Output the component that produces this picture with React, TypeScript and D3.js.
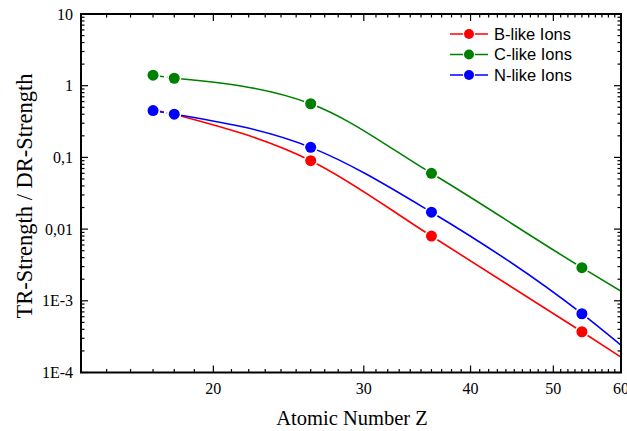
import { useRef, useEffect } from 'react';
import * as d3 from 'd3';

// atomic numbers of the computed ions
const ionZ = [17, 18, 26, 36, 54];
const bLike = [0.46, 0.4, 0.09, 0.008, 0.00037];
const cLike = [1.4, 1.27, 0.56, 0.06, 0.0029];
const nLike = [0.45, 0.4, 0.138, 0.0172, 0.00066];

// where the fitted curves leave the frame
const fitEndZ = 60;
const bLikeFitEnd = 0.000164;
const cLikeFitEnd = 0.00136;
const nLikeFitEnd = 0.00024;

const xMajorTicks = [20, 30, 40, 50, 60];
const yMajorTicks = [10, 1, 0.1, 0.01, 0.001, 0.0001];
const yTickLabels = ['10', '1', '0,1', '0,01', '1E-3', '1E-4'];

const seriesNames = ['B-like Ions', 'C-like Ions', 'N-like Ions'];
const seriesColors = ['#ff0000', '#008000', '#0000ff'];

export default function App() {
  const svgRef = useRef(null);

  useEffect(() => {
    const svg = d3.select(svgRef.current);
    svg.selectAll('*').remove();

    const left = 81;
    const right = 621;
    const top = 14;
    const bottom = 372.5;

    const x = d3.scaleLog().domain([14, 60]).range([left, right]);
    const y = d3.scaleLog().domain([0.0001, 10]).range([bottom, top]);

    svg
      .append('defs')
      .append('clipPath')
      .attr('id', 'plotClip')
      .append('rect')
      .attr('x', left)
      .attr('y', top)
      .attr('width', right - left)
      .attr('height', bottom - top);

    const series = [
      { vals: bLike, end: bLikeFitEnd },
      { vals: cLike, end: cLikeFitEnd },
      { vals: nLike, end: nLikeFitEnd },
    ];

    const plot = svg.append('g').attr('clip-path', 'url(#plotClip)');
    const line = d3
      .line()
      .x((d) => x(d[0]))
      .y((d) => y(d[1]))
      .curve(d3.curveMonotoneX);

    series.forEach((s, i) => {
      const pts = ionZ.map((z, j) => [z, s.vals[j]]);
      // dashed piece between the two lightest ions
      plot
        .append('path')
        .attr('d', d3.line()(pts.slice(0, 2).map((p) => [x(p[0]), y(p[1])])))
        .attr('fill', 'none')
        .attr('stroke', seriesColors[i])
        .attr('stroke-width', 1.6)
        .attr('stroke-dasharray', '4,3');
      plot
        .append('path')
        .attr('d', line(pts.slice(1).concat([[fitEndZ, s.end]])))
        .attr('fill', 'none')
        .attr('stroke', seriesColors[i])
        .attr('stroke-width', 1.6);
    });

    series.forEach((s, i) => {
      plot
        .selectAll(null)
        .data(ionZ)
        .enter()
        .append('circle')
        .attr('cx', (z) => x(z))
        .attr('cy', (z, j) => y(s.vals[j]))
        .attr('r', 5.5)
        .attr('fill', seriesColors[i])
        .attr('stroke', 'white')
        .attr('stroke-width', 3)
        .attr('paint-order', 'stroke');
    });

    // frame + inward ticks on all four sides
    const axes = svg.append('g').attr('stroke', 'black');
    const xMinor = d3.range(15, 60).filter((v) => !xMajorTicks.includes(v));
    const yMinor = [];
    [0.0001, 0.001, 0.01, 0.1, 1].forEach((d) => {
      for (let k = 2; k <= 9; k++) yMinor.push(d * k);
    });

    const tick = (x1, y1, x2, y2) =>
      axes
        .append('line')
        .attr('x1', x1)
        .attr('y1', y1)
        .attr('x2', x2)
        .attr('y2', y2)
        .attr('stroke-width', 1.2);

    xMajorTicks.forEach((v) => {
      tick(x(v), bottom, x(v), bottom - 7);
      tick(x(v), top, x(v), top + 7);
    });
    xMinor.forEach((v) => {
      tick(x(v), bottom, x(v), bottom - 3.5);
      tick(x(v), top, x(v), top + 3.5);
    });
    yMajorTicks.forEach((v) => {
      tick(left, y(v), left + 7, y(v));
      tick(right, y(v), right - 7, y(v));
    });
    yMinor.forEach((v) => {
      tick(left, y(v), left + 3.5, y(v));
      tick(right, y(v), right - 3.5, y(v));
    });

    axes
      .append('rect')
      .attr('x', left)
      .attr('y', top)
      .attr('width', right - left)
      .attr('height', bottom - top)
      .attr('fill', 'none')
      .attr('stroke-width', 2);

    const serif = 'Liberation Serif, Times New Roman, serif';

    svg
      .append('g')
      .selectAll('text')
      .data(xMajorTicks)
      .enter()
      .append('text')
      .attr('x', (v) => x(v))
      .attr('y', 394)
      .attr('text-anchor', 'middle')
      .attr('font-family', serif)
      .attr('font-size', 16)
      .text((v) => v);

    svg
      .append('g')
      .selectAll('text')
      .data(yMajorTicks)
      .enter()
      .append('text')
      .attr('x', 73)
      .attr('y', (v) => y(v))
      .attr('dy', '0.35em')
      .attr('text-anchor', 'end')
      .attr('font-family', serif)
      .attr('font-size', 16)
      .text((v, i) => yTickLabels[i]);

    svg
      .append('text')
      .attr('x', 352)
      .attr('y', 425)
      .attr('text-anchor', 'middle')
      .attr('font-family', serif)
      .attr('font-size', 20.5)
      .text('Atomic Number Z');

    svg
      .append('text')
      .attr('transform', 'translate(32,196) rotate(-90)')
      .attr('text-anchor', 'middle')
      .attr('font-family', serif)
      .attr('font-size', 22.5)
      .text('TR-Strength / DR-Strength');

    // legend
    const legend = svg.append('g');
    seriesNames.forEach((name, i) => {
      const ly = 34 + i * 20.5;
      legend
        .append('line')
        .attr('x1', 450)
        .attr('x2', 488)
        .attr('y1', ly)
        .attr('y2', ly)
        .attr('stroke', seriesColors[i])
        .attr('stroke-width', 1.6);
      legend
        .append('circle')
        .attr('cx', 469)
        .attr('cy', ly)
        .attr('r', 5)
        .attr('fill', seriesColors[i])
        .attr('stroke', 'white')
        .attr('stroke-width', 2)
        .attr('paint-order', 'stroke');
      legend
        .append('text')
        .attr('x', 494)
        .attr('y', ly)
        .attr('dy', '0.35em')
        .attr('font-family', 'Liberation Sans, Arial, sans-serif')
        .attr('font-size', 16.5)
        .text(name);
    });
  }, []);

  return (
    <svg
      ref={svgRef}
      width={627}
      height={431}
      style={{ position: 'absolute', left: 0, top: 0, background: 'white' }}
    />
  );
}
